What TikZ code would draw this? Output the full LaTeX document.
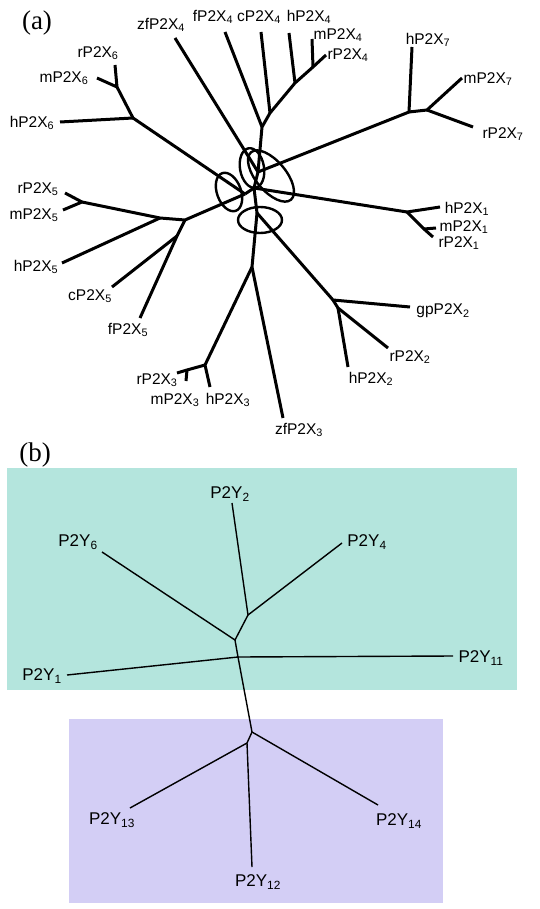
\documentclass[tikz,border=0pt]{standalone}
\usepackage{fontspec}
\setmainfont{Liberation Serif}
\setsansfont{Liberation Sans}
\usepackage{tikz}
\usetikzlibrary{calc}
\definecolor{tealbox}{RGB}{180,229,221}
\definecolor{lilacbox}{RGB}{211,206,245}

\begin{document}
\begin{tikzpicture}[x=1pt,y=-1pt,
  br/.style={line width=3pt,line join=round},
  loop/.style={line width=2.4pt},
  bt/.style={line width=1.4pt,line join=round},
  la/.style={font=\sffamily\fontsize{15.5}{17}\selectfont,inner sep=0pt},
  lb/.style={font=\sffamily\fontsize{17}{19}\selectfont,inner sep=0pt},
  pl/.style={font=\fontsize{27}{29}\selectfont,inner sep=0pt}]
\useasboundingbox (0,0) rectangle (539,909);
\fill[white] (0,0) rectangle (539,909);
\node[pl] (pa) at (37,23) {(a)};
\coordinate (r6) at (115,65);
\coordinate (m6) at (97,78);
\coordinate (h6) at (60,122);
\coordinate (u6) at (117,87);
\coordinate (v6) at (133,118);
\coordinate (zf4) at (175,38);
\coordinate (f4) at (225,32);
\coordinate (c4) at (261,32);
\coordinate (h4) at (289,33);
\coordinate (m4) at (312,39);
\coordinate (r4) at (326,55);
\coordinate (um4) at (313,67);
\coordinate (uh4) at (295,83);
\coordinate (uc4) at (270,113);
\coordinate (uf4) at (262,127);
\coordinate (a4) at (258,172);
\coordinate (c0) at (254,188);
\coordinate (p56) at (245,194);
\coordinate (b0) at (257,213);
\coordinate (h7) at (412,47);
\coordinate (m7) at (462,78);
\coordinate (r7) at (473,127);
\coordinate (u7) at (409,112);
\coordinate (v7) at (427,110);
\coordinate (h1) at (440,207);
\coordinate (m1) at (436,228);
\coordinate (r1) at (433,237);
\coordinate (u1) at (407,212);
\coordinate (v1) at (424,229);
\coordinate (gp2) at (410,307);
\coordinate (r2) at (388,348);
\coordinate (h2) at (348,367);
\coordinate (u2) at (333,300);
\coordinate (v2) at (338,308);
\coordinate (zf3) at (283,418);
\coordinate (h3) at (210,387);
\coordinate (m3) at (186,381);
\coordinate (r3) at (177,373);
\coordinate (u3) at (252,267);
\coordinate (v3) at (205,365);
\coordinate (w3) at (187,370);
\coordinate (r5) at (65,193);
\coordinate (m5) at (63,210);
\coordinate (h5) at (62,263);
\coordinate (c5) at (112,287);
\coordinate (f5) at (140,318);
\coordinate (u5) at (82,202);
\coordinate (v5) at (160,218);
\coordinate (w5) at (185,220);
\coordinate (x5) at (177,236);
\draw[br] (r6) -- (u6) -- (m6);
\draw[br] (u6) -- (v6) -- (p56);
\draw[br] (h6) -- (v6);
\draw[br] (zf4) -- (a4);
\draw[br] (f4) -- (uf4) -- (a4);
\draw[br] (c4) -- (uc4);
\draw[br] (r4) -- (um4) -- (uh4) -- (uc4) -- (uf4);
\draw[br] (m4) -- (um4);
\draw[br] (h4) -- (uh4);
\draw[br] (a4) -- (c0) -- (b0);
\draw[br] (p56) -- (c0);
\draw[br] (h7) -- (u7) -- (v7) -- (m7);
\draw[br] (v7) -- (r7);
\draw[br] (u7) -- (a4);
\draw[br] (h1) -- (u1) -- (v1) -- (r1);
\draw[br] (v1) -- (m1);
\draw[br] (u1) -- (c0);
\draw[br] (b0) -- (u2) -- (gp2);
\draw[br] (u2) -- (v2) -- (r2);
\draw[br] (v2) -- (h2);
\draw[br] (b0) -- (u3) -- (zf3);
\draw[br] (u3) -- (v3) -- (h3);
\draw[br] (v3) -- (w3) -- (r3);
\draw[br] (w3) -- (m3);
\draw[br] (r5) -- (u5) -- (m5);
\draw[br] (u5) -- (v5) -- (w5) -- (p56);
\draw[br] (h5) -- (v5);
\draw[br] (w5) -- (x5) -- (f5);
\draw[br] (x5) -- (c5);
\draw[loop] (252,168) ellipse [x radius=12, y radius=20, rotate=10];
\draw[loop] (271,176) ellipse [x radius=31, y radius=15, rotate=-50];
\draw[loop] (229,192) ellipse [x radius=12, y radius=20, rotate=20];
\draw[loop] (260,220) ellipse [x radius=22, y radius=13];
\node[la] (tzf4) at (161,25) {zfP2X\textsubscript{4}};
\node[la] (tf4) at (213,17) {fP2X\textsubscript{4}};
\node[la] (tc4) at (259,17) {cP2X\textsubscript{4}};
\node[la] (th4) at (309,17) {hP2X\textsubscript{4}};
\node[la] (tm4) at (338,35) {mP2X\textsubscript{4}};
\node[la] (tr4) at (348,55) {rP2X\textsubscript{4}};
\node[la] (th7) at (428,40) {hP2X\textsubscript{7}};
\node[la] (tm7) at (488,79) {mP2X\textsubscript{7}};
\node[la] (tr7) at (503,134) {rP2X\textsubscript{7}};
\node[la] (th1) at (467,209) {hP2X\textsubscript{1}};
\node[la] (tm1) at (464,227) {mP2X\textsubscript{1}};
\node[la] (tr1) at (459,243) {rP2X\textsubscript{1}};
\node[la] (tgp2) at (443,311) {gpP2X\textsubscript{2}};
\node[la] (tr2) at (410,357) {rP2X\textsubscript{2}};
\node[la] (th2) at (371,379) {hP2X\textsubscript{2}};
\node[la] (tzf3) at (299,430) {zfP2X\textsubscript{3}};
\node[la] (th3) at (228,400) {hP2X\textsubscript{3}};
\node[la] (tm3) at (175,400) {mP2X\textsubscript{3}};
\node[la] (tr3) at (157,380) {rP2X\textsubscript{3}};
\node[la] (tf5) at (128,330) {fP2X\textsubscript{5}};
\node[la] (tc5) at (90,296) {cP2X\textsubscript{5}};
\node[la] (th5) at (36,267) {hP2X\textsubscript{5}};
\node[la] (tm5) at (34,215) {mP2X\textsubscript{5}};
\node[la] (tr5) at (38,189) {rP2X\textsubscript{5}};
\node[la] (th6) at (32,123) {hP2X\textsubscript{6}};
\node[la] (tm6) at (64,78) {mP2X\textsubscript{6}};
\node[la] (tr6) at (98,53) {rP2X\textsubscript{6}};
\fill[tealbox] (7,468) rectangle (517,690);
\fill[lilacbox] (69,719) rectangle (443,903);
\node[pl] (pb) at (35,455) {(b)};
\coordinate (y2) at (232,503);
\coordinate (y4) at (342,543);
\coordinate (y6) at (102,552);
\coordinate (y1) at (67,675);
\coordinate (y11) at (453,656);
\coordinate (y14) at (378,805);
\coordinate (y13) at (130,808);
\coordinate (y12) at (252,867);
\coordinate (n1) at (248,615);
\coordinate (n2) at (235,640);
\coordinate (n3) at (238,657);
\coordinate (n4) at (252,732);
\coordinate (n5) at (247,743);
\draw[bt] (y2) -- (n1) -- (y4);
\draw[bt] (n1) -- (n2) -- (y6);
\draw[bt] (n2) -- (n3) -- (y1);
\draw[bt] (n3) -- (y11);
\draw[bt] (n3) -- (n4) -- (y14);
\draw[bt] (n4) -- (n5) -- (y13);
\draw[bt] (n5) -- (y12);
\node[lb] (ty2) at (230,494) {P2Y\textsubscript{2}};
\node[lb] (ty4) at (367,542) {P2Y\textsubscript{4}};
\node[lb] (ty6) at (78,542) {P2Y\textsubscript{6}};
\node[lb] (ty1) at (42,676) {P2Y\textsubscript{1}};
\node[lb] (ty11) at (481,658) {P2Y\textsubscript{11}};
\node[lb] (ty13) at (112,820) {P2Y\textsubscript{13}};
\node[lb] (ty14) at (399,821) {P2Y\textsubscript{14}};
\node[lb] (ty12) at (258,882) {P2Y\textsubscript{12}};
\end{tikzpicture}
\end{document}
